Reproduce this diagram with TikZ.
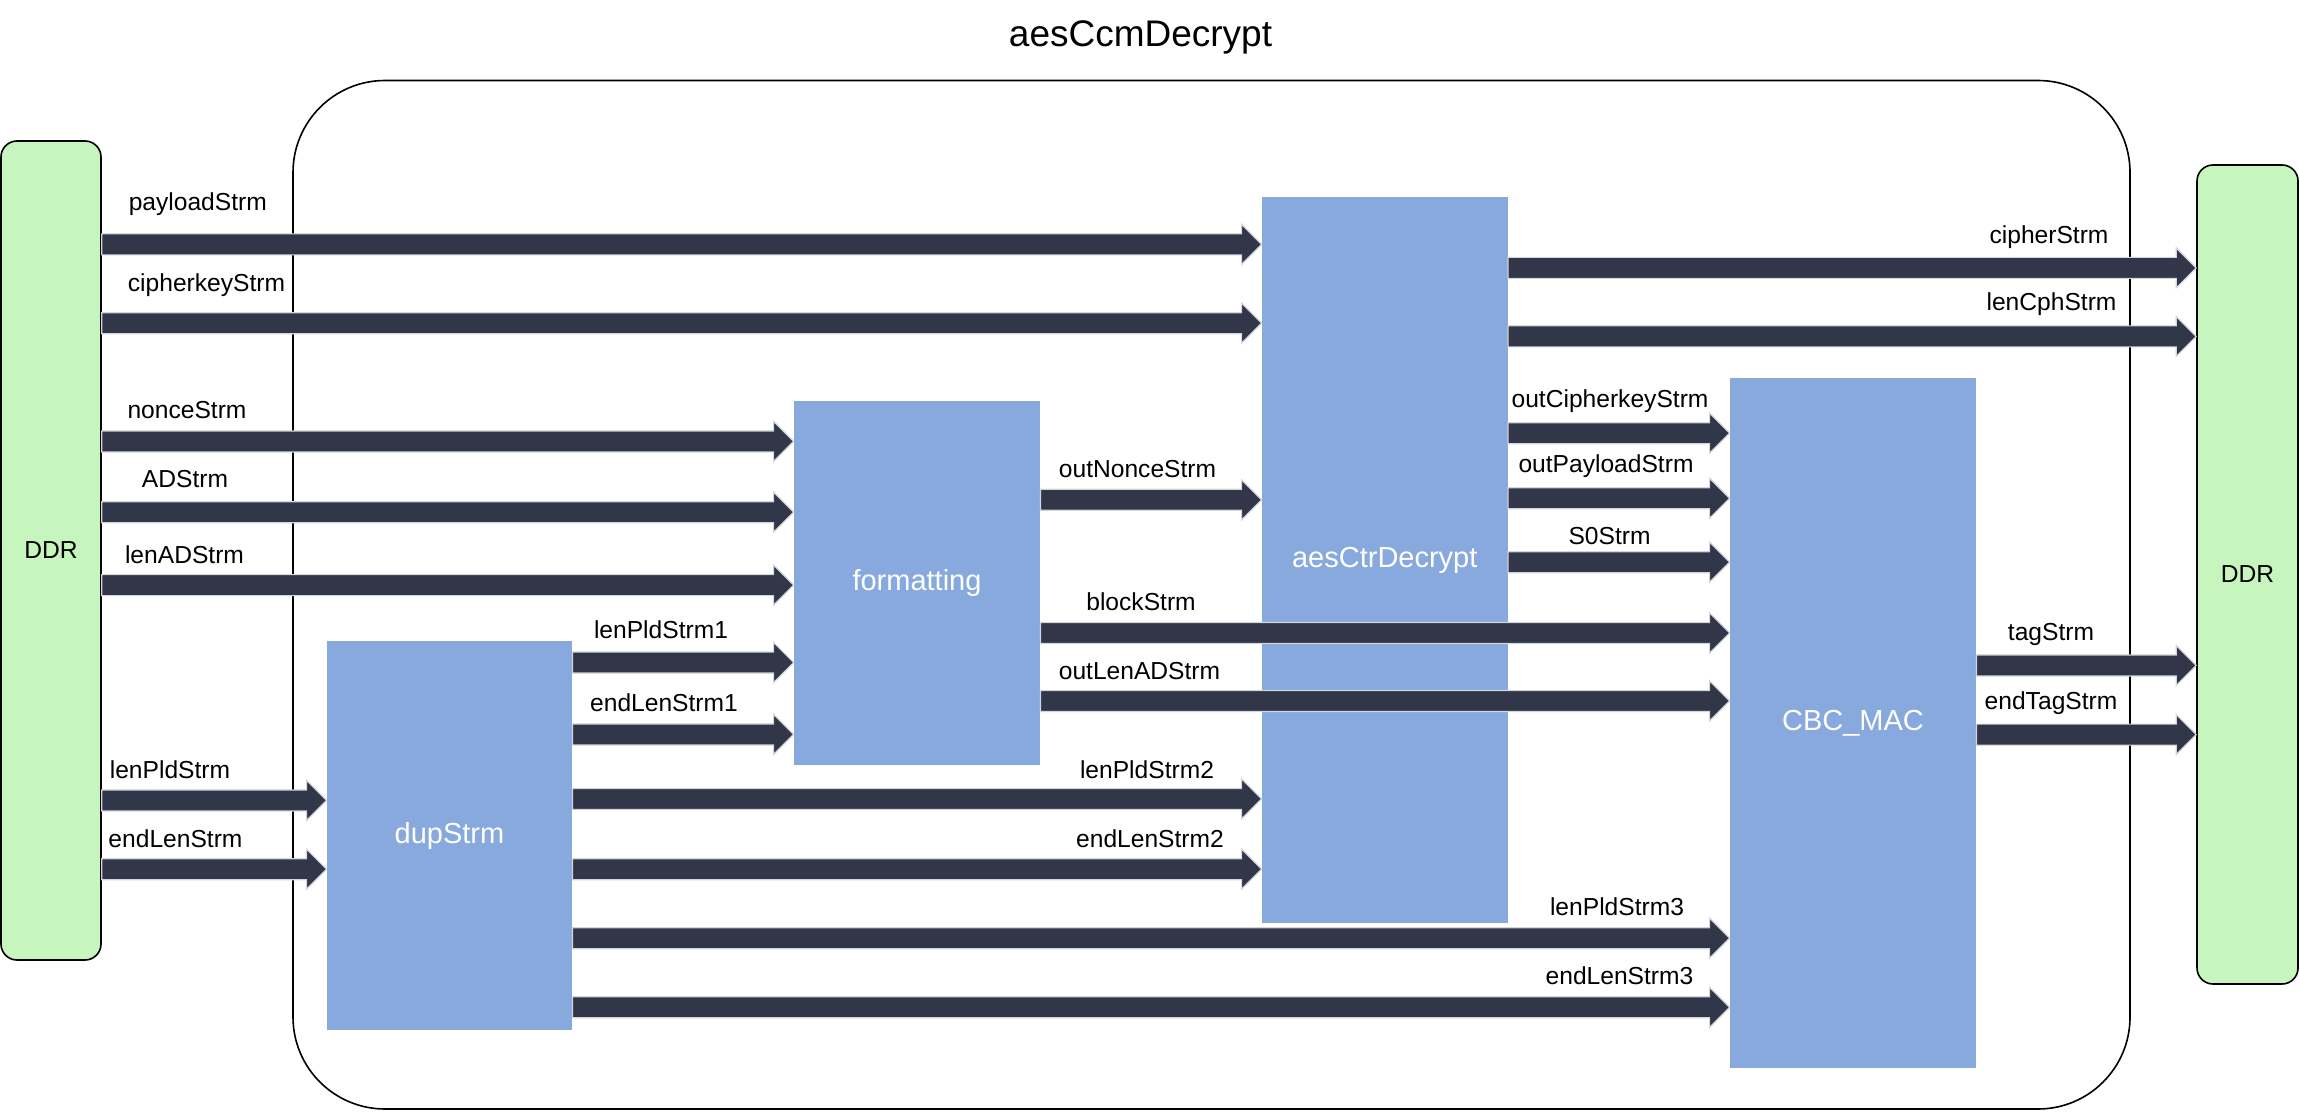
\documentclass[tikz,border=0pt]{standalone}
\usepackage{fontspec}
\setmainfont{Liberation Sans}
\usetikzlibrary{calc}
\definecolor{ddrgreen}{HTML}{C6F5BE}
\definecolor{blockblue}{HTML}{87A9DE}
\definecolor{arrowdark}{HTML}{313749}
\definecolor{arrowedge}{HTML}{D3D5DB}
\tikzset{
  ddr/.style={draw=black, line width=0.8pt, fill=ddrgreen, rounded corners=8pt, inner sep=0pt, font=\fontsize{12.3}{14}\selectfont},
  blk/.style={fill=blockblue, inner sep=0pt, text=white, font=\fontsize{14.5}{17}\selectfont},
  lbl/.style={anchor=base, inner sep=0pt, font=\fontsize{12.3}{14}\selectfont},
  fat/.style={fill=arrowdark, draw=arrowedge, line width=0.6pt},
  frame/.style={draw=black, line width=0.8pt, rounded corners=46pt, inner sep=0pt},
}
\newcommand{\fatarrow}[2]{%
  \path[fat] let \p1=(#1), \p2=(#2) in
    (\x1,\y1+5.25pt) -- (\x2-10pt,\y1+5.25pt) -- (\x2-10pt,\y1+10pt) -- (\x2,\y1)
    -- (\x2-10pt,\y1-10pt) -- (\x2-10pt,\y1-5.25pt) -- (\x1,\y1-5.25pt) -- cycle;}
\begin{document}
\begin{tikzpicture}[x=0.5pt,y=-0.5pt]
\useasboundingbox (0,0) rectangle (2300,1112);

% title and container
\node[anchor=base, inner sep=0pt, font=\fontsize{18.5}{22}\selectfont] (title) at (1140.5,47) {aesCcmDecrypt};
\node[frame, minimum width=918.5pt, minimum height=514.25pt] (box) at (1211.5,594.75) {};

% DDR stores
\node[ddr, minimum width=50pt, minimum height=409.5pt] (ddrL) at (51,550.5) {DDR};
\node[ddr, minimum width=50.5pt, minimum height=409.5pt] (ddrR) at (2247.5,574.5) {DDR};

% blocks
\node[blk, minimum width=122.75pt, minimum height=363pt] (aes) at (1384.75,560) {aesCtrDecrypt};
\node[blk, minimum width=123pt, minimum height=182pt] (fmt) at (917,583) {formatting};
\node[blk, minimum width=122.5pt, minimum height=194.5pt] (dup) at (449.5,835.5) {dupStrm};
\node[blk, minimum width=123pt, minimum height=345pt] (cbc) at (1853,723) {CBC\_MAC};

% row coordinates
\coordinate (rPay) at (0,244.4);
\coordinate (rKey) at (0,323.2);
\coordinate (rNon) at (0,441.4);
\coordinate (rAD) at (0,512.2);
\coordinate (rLAD) at (0,585.1);
\coordinate (rONon) at (0,499.8);
\coordinate (rBlk) at (0,633);
\coordinate (rOLAD) at (0,700.9);
\coordinate (rLP1) at (0,662.5);
\coordinate (rEL1) at (0,734.4);
\coordinate (rLP) at (0,800.4);
\coordinate (rEL) at (0,869.2);
\coordinate (rLP2) at (0,798.9);
\coordinate (rEL2) at (0,869.2);
\coordinate (rLP3) at (0,938.2);
\coordinate (rEL3) at (0,1007.3);
\coordinate (rOKey) at (0,433.2);
\coordinate (rOPay) at (0,498.3);
\coordinate (rS0) at (0,562.2);
\coordinate (rCph) at (0,267.9);
\coordinate (rLCph) at (0,336.4);
\coordinate (rTag) at (0,665.4);
\coordinate (rETag) at (0,734.6);

% arrows
\fatarrow{ddrL.east |- rPay}{aes.west |- rPay}
\fatarrow{ddrL.east |- rKey}{aes.west |- rKey}
\fatarrow{ddrL.east |- rNon}{fmt.west |- rNon}
\fatarrow{ddrL.east |- rAD}{fmt.west |- rAD}
\fatarrow{ddrL.east |- rLAD}{fmt.west |- rLAD}
\fatarrow{fmt.east |- rONon}{aes.west |- rONon}
\fatarrow{fmt.east |- rBlk}{cbc.west |- rBlk}
\fatarrow{fmt.east |- rOLAD}{cbc.west |- rOLAD}
\fatarrow{dup.east |- rLP1}{fmt.west |- rLP1}
\fatarrow{dup.east |- rEL1}{fmt.west |- rEL1}
\fatarrow{ddrL.east |- rLP}{dup.west |- rLP}
\fatarrow{ddrL.east |- rEL}{dup.west |- rEL}
\fatarrow{dup.east |- rLP2}{aes.west |- rLP2}
\fatarrow{dup.east |- rEL2}{aes.west |- rEL2}
\fatarrow{dup.east |- rLP3}{cbc.west |- rLP3}
\fatarrow{dup.east |- rEL3}{cbc.west |- rEL3}
\fatarrow{aes.east |- rOKey}{cbc.west |- rOKey}
\fatarrow{aes.east |- rOPay}{cbc.west |- rOPay}
\fatarrow{aes.east |- rS0}{cbc.west |- rS0}
\fatarrow{aes.east |- rCph}{ddrR.west |- rCph}
\fatarrow{aes.east |- rLCph}{ddrR.west |- rLCph}
\fatarrow{cbc.east |- rTag}{ddrR.west |- rTag}
\fatarrow{cbc.east |- rETag}{ddrR.west |- rETag}

% labels
\node[lbl] (lPay) at (197.8,210.5) {payloadStrm};
\node[lbl] (lKey) at (206.5,291.9) {cipherkeyStrm};
\node[lbl] (lNon) at (187,418) {nonceStrm};
\node[lbl] (lAD) at (185,487) {ADStrm};
\node[lbl] (lLAD) at (184.5,563) {lenADStrm};
\node[lbl] (lONon) at (1137.5,477) {outNonceStrm};
\node[lbl] (lBlk) at (1141,610) {blockStrm};
\node[lbl] (lOLAD) at (1139.5,679) {outLenADStrm};
\node[lbl] (lLP1) at (661,638) {lenPldStrm1};
\node[lbl] (lEL1) at (664,711) {endLenStrm1};
\node[lbl] (lLP) at (170,778) {lenPldStrm};
\node[lbl] (lEL) at (175.5,847.5) {endLenStrm};
\node[lbl] (lLP2) at (1147,778) {lenPldStrm2};
\node[lbl] (lEL2) at (1150,847.5) {endLenStrm2};
\node[lbl] (lLP3) at (1617,915.6) {lenPldStrm3};
\node[lbl] (lEL3) at (1619.5,984.4) {endLenStrm3};
\node[lbl] (lOKey) at (1610,408) {outCipherkeyStrm};
\node[lbl] (lOPay) at (1606,472) {outPayloadStrm};
\node[lbl] (lS0) at (1609.5,544) {S0Strm};
\node[lbl] (lCph) at (2049,243.2) {cipherStrm};
\node[lbl] (lLCph) at (2051.5,311) {lenCphStrm};
\node[lbl] (lTag) at (2051,640.2) {tagStrm};
\node[lbl] (lETag) at (2051,709.4) {endTagStrm};
\end{tikzpicture}
\end{document}
